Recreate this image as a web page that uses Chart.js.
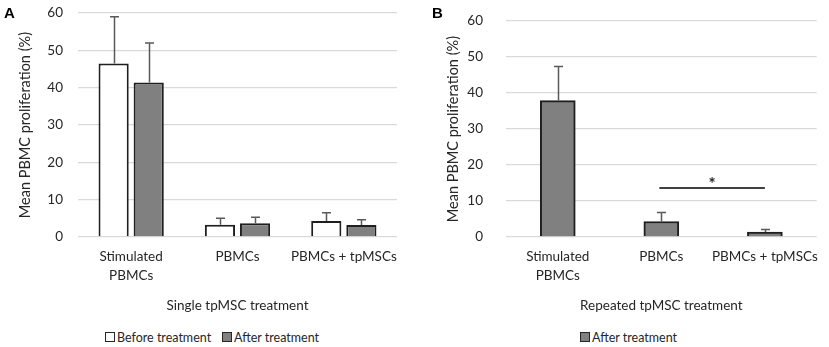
<!DOCTYPE html>
<html lang="en">
<head>
  <meta charset="UTF-8" />
  <title>PBMC proliferation</title>
  <script src="https://cdn.jsdelivr.net/npm/chart.js"></script>
  <style>
    body { margin: 0; padding: 0; background: #fff; font-family: Lato, 'Noto Sans', sans-serif; color: #262626; }
    .wrap { position: relative; width: 829px; height: 347px; overflow: hidden; }
    .panel { position: absolute; top: -10px; height: 330px; }
    .tag { position: absolute; top: 4px; font: bold 15px 'Liberation Sans', Arial, sans-serif; color: #000; }
    .legend { position: absolute; top: 330px; font-size: 12.5px; white-space: nowrap; }
    .legend span.box { display: inline-block; width: 8px; height: 8px; border: 1px solid #262626; margin-right: 2px; vertical-align: 0px; }
  </style>
</head>
<body>
  <div class="wrap">
    <div class="panel" style="left:0; width:420px;"><canvas id="chartA"></canvas></div>
    <div class="panel" style="left:420px; width:409px;"><canvas id="chartB"></canvas></div>
    <div class="tag" style="left:4px;">A</div>
    <div class="tag" style="left:432px;">B</div>
    <div class="legend" style="left:105px;"><span class="box" style="background:#fff;"></span>Before treatment</div>
    <div class="legend" style="left:222px;"><span class="box" style="background:#808080;"></span>After treatment</div>
    <div class="legend" style="left:580px;"><span class="box" style="background:#808080;"></span>After treatment</div>
  </div>

  <script>
    // data
    const categories = [['Stimulated', 'PBMCs'], 'PBMCs', 'PBMCs + tpMSCs'];
    const singleBefore = [46.5, 3.3, 4.3];
    const singleBeforeErr = [12.5, 1.7, 2.2];
    const singleAfter = [41.4, 3.7, 3.2];
    const singleAfterErr = [10.6, 1.6, 1.4];
    const repeatedAfter = [37.9, 4.3, 1.4];
    const repeatedAfterErr = [9.5, 2.5, 0.7];
    const yTicks = [0, 10, 20, 30, 40, 50, 60];
    const sigLevel = 13.6; // bracket between PBMCs and PBMCs + tpMSCs (panel B)

    const FONT = 'Lato, "Noto Sans", sans-serif';
    const GRAY = '#808080';
    const EDGE = '#1f1f1f';

    // upper error bars, drawn from the bar top
    const errorBars = {
      id: 'errorBars',
      afterDatasetsDraw(chart, args, opts) {
        const ctx = chart.ctx;
        const y = chart.scales.y;
        ctx.save();
        ctx.strokeStyle = '#5a5a5a';
        ctx.lineWidth = 1.5;
        chart.data.datasets.forEach((ds, i) => {
          const meta = chart.getDatasetMeta(i);
          meta.data.forEach((bar, j) => {
            const top = y.getPixelForValue(ds.data[j] + ds.err[j]);
            const x = Math.round(bar.x) + 0.5;
            ctx.beginPath();
            ctx.moveTo(x, bar.y);
            ctx.lineTo(x, top);
            ctx.moveTo(x - 4.5, top);
            ctx.lineTo(x + 4.5, top);
            ctx.stroke();
          });
        });
        ctx.restore();
      }
    };

    const sigBracket = {
      id: 'sigBracket',
      afterDatasetsDraw(chart, args, opts) {
        if (!opts || !opts.show) return;
        const ctx = chart.ctx;
        const x1 = chart.scales.x.getPixelForValue(1);
        const x2 = chart.scales.x.getPixelForValue(2);
        const yy = chart.scales.y.getPixelForValue(sigLevel);
        ctx.save();
        ctx.strokeStyle = '#000';
        ctx.lineWidth = 1.5;
        ctx.beginPath();
        ctx.moveTo(x1 - 2, yy);
        ctx.lineTo(x2, yy);
        ctx.stroke();
        ctx.fillStyle = '#262626';
        ctx.font = 'bold 17px ' + FONT;
        ctx.textAlign = 'center';
        ctx.textBaseline = 'middle';
        ctx.fillText('*', (x1 + x2) / 2 - 1, yy - 4);
        ctx.restore();
      }
    };

    function makeOptions(axisWidth, tickPad, titlePad, padRight, title, sig) {
      return {
        responsive: false,
        animation: false,
        layout: { padding: { top: 4, right: padRight, bottom: 0, left: 0 } },
        plugins: {
          legend: { display: false },
          tooltip: { enabled: false },
          sigBracket: { show: sig }
        },
        scales: {
          x: {
            grid: { display: false, drawTicks: false },
            border: { display: false },
            ticks: { color: '#262626', padding: 11, maxRotation: 0, autoSkip: false,
                     font: { family: FONT, size: 13.5, lineHeight: 1.35 } },
            title: { display: true, text: title, color: '#262626',
                     font: { family: FONT, size: 13.5, lineHeight: 1.2 },
                     padding: { top: 0, bottom: 6 } },
            afterFit(scale) { scale.height = 83; }
          },
          y: {
            min: 0, max: 60,
            afterBuildTicks(scale) { scale.ticks = yTicks.map(v => ({ value: v })); },
            grid: { color: '#d9d9d9', lineWidth: 1.3, drawTicks: false },
            border: { display: false },
            ticks: { color: '#262626', padding: tickPad, font: { family: FONT, size: 13.5 } },
            title: { display: true, text: 'Mean PBMC proliferation (%)', color: '#262626',
                     font: { family: FONT, size: 14.5, lineHeight: 1.2 },
                     padding: { top: titlePad, bottom: 0 } },
            afterFit(scale) { scale.width = axisWidth; }
          }
        }
      };
    }

    function setup(id, w) {
      const c = document.getElementById(id);
      c.width = w; c.height = 330;
      c.style.width = w + 'px'; c.style.height = '330px';
      return c;
    }

    new Chart(setup('chartA', 420), {
      type: 'bar',
      data: {
        labels: categories,
        datasets: [
          { label: 'Before treatment', data: singleBefore, err: singleBeforeErr,
            backgroundColor: '#ffffff', borderColor: EDGE, borderWidth: 2,
            categoryPercentage: 0.66, barPercentage: 0.86 },
          { label: 'After treatment', data: singleAfter, err: singleAfterErr,
            backgroundColor: GRAY, borderColor: EDGE, borderWidth: 2,
            categoryPercentage: 0.66, barPercentage: 0.86 }
        ]
      },
      options: makeOptions(78, 15, 17, 23, 'Single tpMSC treatment', false),
      plugins: [errorBars, sigBracket]
    });

    new Chart(setup('chartB', 409), {
      type: 'bar',
      data: {
        labels: categories,
        datasets: [
          { label: 'After treatment', data: repeatedAfter, err: repeatedAfterErr,
            backgroundColor: GRAY, borderColor: EDGE, borderWidth: 2, barThickness: 35 }
        ]
      },
      options: makeOptions(86, 23, 25, 1, 'Repeated tpMSC treatment', true),
      plugins: [errorBars, sigBracket]
    });
  </script>
</body>
</html>
